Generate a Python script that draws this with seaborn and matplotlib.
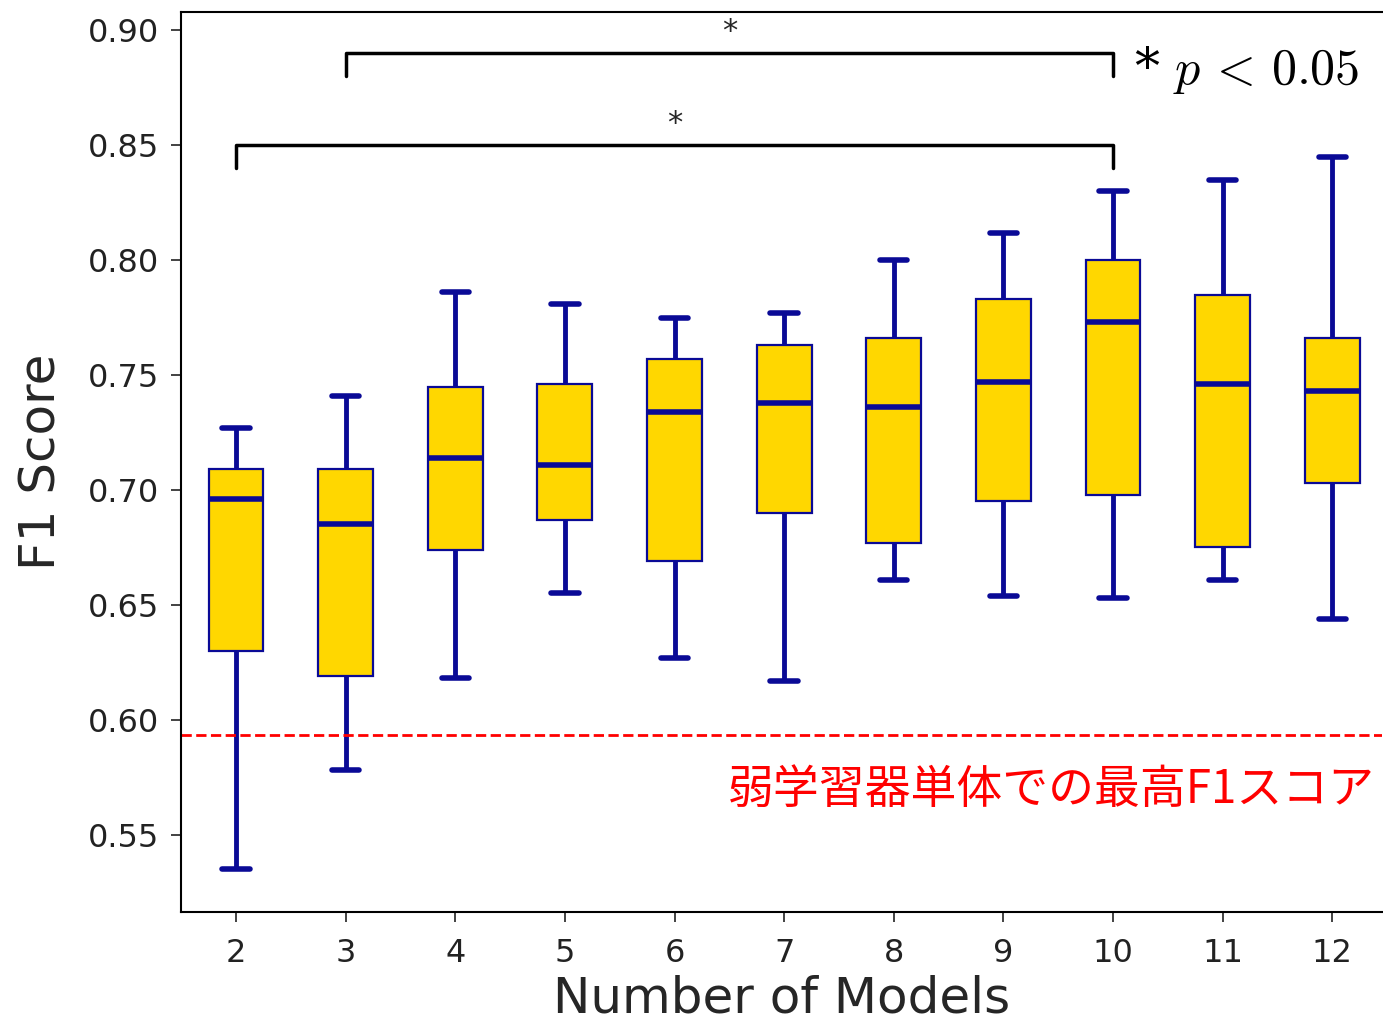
import pandas as pd
import matplotlib
matplotlib.use("Agg")
import matplotlib.pyplot as plt
import seaborn as sns

# five-number summary per ensemble size
n_models = ["2", "3", "4", "5", "6", "7", "8", "9", "10", "11", "12"]
whisker_low = [0.535, 0.578, 0.618, 0.655, 0.627, 0.617, 0.661, 0.654, 0.653, 0.661, 0.644]
q1 = [0.630, 0.619, 0.674, 0.687, 0.669, 0.690, 0.677, 0.695, 0.698, 0.675, 0.703]
median = [0.696, 0.685, 0.714, 0.711, 0.734, 0.738, 0.736, 0.747, 0.773, 0.746, 0.743]
q3 = [0.709, 0.709, 0.745, 0.746, 0.757, 0.763, 0.766, 0.783, 0.800, 0.785, 0.766]
whisker_high = [0.727, 0.741, 0.786, 0.781, 0.775, 0.777, 0.800, 0.812, 0.830, 0.835, 0.845]

best_single = 0.5935  # best F1 of a single weak learner

# significance brackets: (from, to, height)
brackets = [("3", "10", 0.890), ("2", "10", 0.850)]

records = []
for i, m in enumerate(n_models):
    for v in (whisker_low[i], q1[i], median[i], q3[i], whisker_high[i]):
        records.append({"Number of Models": m, "F1 Score": v})
df = pd.DataFrame(records)

sns.set_theme(style="ticks")
plt.rcParams["font.family"] = ["DejaVu Sans", "Noto Sans CJK JP"]
plt.rcParams["mathtext.fontset"] = "cm"

fig = plt.figure(figsize=(13.83, 10.29), dpi=100)
ax = fig.add_axes([0.131, 0.114, 0.868, 0.874])

navy = "#0a0a96"
sns.boxplot(data=df, x="Number of Models", y="F1 Score", order=n_models,
            whis=(0, 100), width=0.5, ax=ax, fill=True,
            boxprops=dict(facecolor="#ffd700", edgecolor=navy, linewidth=1.6),
            medianprops=dict(color=navy, linewidth=4),
            whiskerprops=dict(color=navy, linewidth=3.5),
            capprops=dict(color=navy, linewidth=4))

ax.axhline(best_single, color="red", ls="--", lw=2)
ax.text(n_models.index("12") + 0.39, 0.5696, "弱学習器単体での最高F1スコア",
        color="red", fontsize=33, ha="right", va="center",
        family=["Noto Sans CJK JP", "DejaVu Sans"])

for a, b, h in brackets:
    xa, xb = n_models.index(a), n_models.index(b)
    ax.plot([xa, xa, xb, xb], [h - 0.01, h, h, h - 0.01], color="black", lw=2.5)
    ax.text((xa + xb) / 2, h + 0.003, "*", ha="center", va="bottom", fontsize=22)

ax.text(n_models.index("10") + 0.19, 0.8826, r"* $p\, <\, 0.05$", fontsize=36,
        ha="left", va="center", color="black", family="DejaVu Serif")

ax.set_ylim(0.5165, 0.9078)
ax.set_xlim(-0.5, 10.45)
ax.set_yticks([0.55, 0.60, 0.65, 0.70, 0.75, 0.80, 0.85, 0.90])
ax.set_yticklabels([f"{t:.2f}" for t in ax.get_yticks()])
ax.tick_params(axis="both", labelsize=23, length=7, width=1.2, colors="#222222")
ax.tick_params(axis="x", pad=12)
ax.tick_params(axis="y", pad=9)
ax.set_xlabel("Number of Models", fontsize=36, labelpad=4)
ax.set_ylabel("F1 Score", fontsize=36, labelpad=16)
for s in ["left", "bottom", "top"]:
    ax.spines[s].set_linewidth(1.5)
    ax.spines[s].set_color("black")
ax.spines["right"].set_visible(False)

fig.savefig("out.png", dpi=100)
